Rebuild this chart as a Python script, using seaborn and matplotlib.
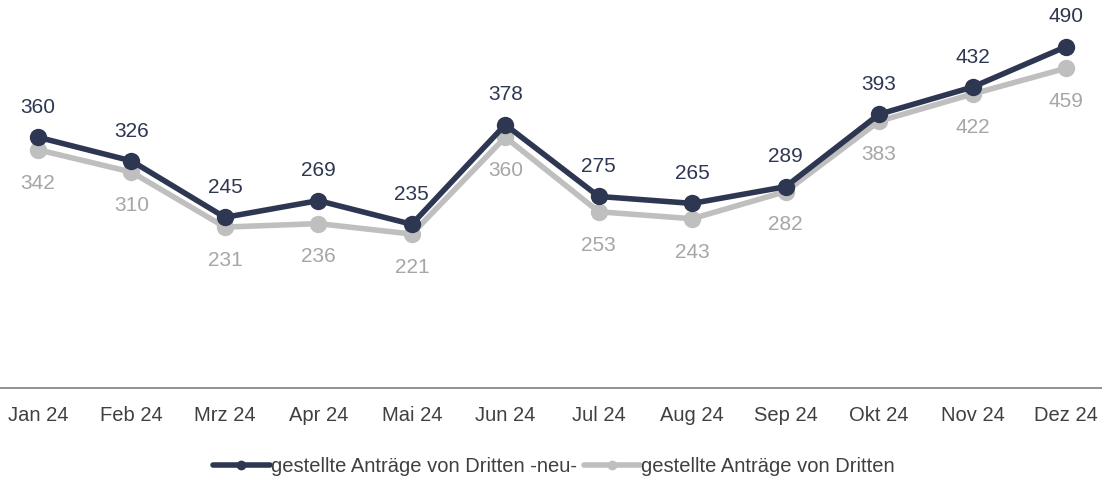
import matplotlib
matplotlib.use("Agg")
import matplotlib.pyplot as plt
import seaborn as sns
import pandas as pd

months = ["Jan 24", "Feb 24", "Mrz 24", "Apr 24", "Mai 24", "Jun 24",
          "Jul 24", "Aug 24", "Sep 24", "Okt 24", "Nov 24", "Dez 24"]
neu = [360, 326, 245, 269, 235, 378, 275, 265, 289, 393, 432, 490]
alt = [342, 310, 231, 236, 221, 360, 253, 243, 282, 383, 422, 459]
series_names = ["gestellte Anträge von Dritten -neu-", "gestellte Anträge von Dritten"]

sns.set_theme(style="white")
plt.rcParams["font.family"] = ["Liberation Sans", "DejaVu Sans"]

dark = "#2E3752"
gray = "#BFBFBF"

df = pd.DataFrame({
    "x": list(range(len(months))) * 2,
    "value": neu + alt,
    "series": [series_names[0]] * len(months) + [series_names[1]] * len(months),
})

fig = plt.figure(figsize=(11.02, 4.83), dpi=100)
ax = fig.add_axes([0, (483 - 388) / 483, 1, 388 / 483])

sns.lineplot(data=df, x="x", y="value", hue="series", hue_order=series_names[::-1],
             palette={series_names[0]: dark, series_names[1]: gray},
             marker="o", markersize=12.5, linewidth=4, markeredgewidth=0,
             ax=ax, legend=False)

for i, (a, b) in enumerate(zip(neu, alt)):
    ax.annotate(str(a), (i, a), xytext=(0, 21.5), textcoords="offset points",
                ha="center", va="center", fontsize=15, color=dark)
    ax.annotate(str(b), (i, b), xytext=(0, -24), textcoords="offset points",
                ha="center", va="center", fontsize=15, color="#A6A6A6")

ax.set_xlim(-38 / 93.45, 11 + 36 / 93.45)
ax.set_ylim(0, 557)
ax.set_xticks(range(len(months)))
ax.set_xticklabels(months, fontsize=14.5, color="#404040")
ax.tick_params(axis="x", length=0, pad=13)
ax.set_yticks([])
ax.set_xlabel("")
ax.set_ylabel("")
for s in ["top", "left", "right"]:
    ax.spines[s].set_visible(False)
ax.spines["bottom"].set_color("#808080")
ax.spines["bottom"].set_linewidth(1.2)

from matplotlib.lines import Line2D
handles = [Line2D([], [], color=dark, lw=4, marker="o", markersize=6),
           Line2D([], [], color=gray, lw=4, marker="o", markersize=6)]
fig.legend(handles, series_names, loc="center", bbox_to_anchor=(554 / 1102, 1 - 467 / 483),
           ncol=2, frameon=False, fontsize=14.5, labelcolor="#404040",
           handlelength=2.8, handletextpad=0.05, columnspacing=0.35,
           borderpad=0, borderaxespad=0)

fig.savefig("out.png", dpi=100)
